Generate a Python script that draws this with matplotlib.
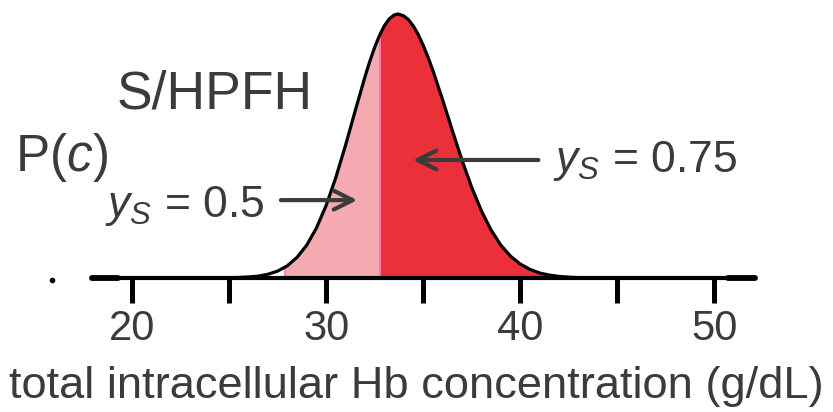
import matplotlib
matplotlib.use("Agg")
import matplotlib.pyplot as plt
import numpy as np

plt.rcParams['font.family'] = ['Liberation Sans', 'DejaVu Sans']
plt.rcParams['mathtext.fontset'] = 'custom'
plt.rcParams['mathtext.rm'] = 'Liberation Sans'
plt.rcParams['mathtext.it'] = 'Liberation Sans:italic'

# curve (relative height, peak = 1)
conc = [22.0, 24.0, 25.0, 25.5, 26.0, 26.5, 27.0, 27.5, 28.0, 28.5, 29.0, 29.5,
        30.0, 30.5, 31.0, 31.5, 32.0, 32.25, 32.5, 32.75, 33.0, 33.25, 33.5, 33.7,
        34.0, 34.25, 34.5, 34.75, 35.0, 35.25, 35.5, 36.0, 36.5, 37.0, 37.5, 38.0,
        38.5, 39.0, 39.5, 40.0, 40.5, 41.0, 41.5, 42.0, 42.5, 43.0, 43.5, 44.0, 46.0]
density = [0.0, 0.0, 0.001, 0.002, 0.004, 0.007, 0.014, 0.026, 0.046, 0.078, 0.124, 0.189,
           0.274, 0.380, 0.502, 0.633, 0.761, 0.820, 0.873, 0.918, 0.955, 0.981, 0.996, 1.0,
           0.993, 0.978, 0.954, 0.922, 0.882, 0.837, 0.787, 0.676, 0.560, 0.447, 0.344, 0.255,
           0.182, 0.125, 0.083, 0.053, 0.033, 0.019, 0.011, 0.006, 0.003, 0.0015, 0.0007,
           0.0003, 0.0]

pink_start = 27.9
split = 32.8
ticks = [20, 25, 30, 35, 40, 45, 50]
tick_labels = ['20', '', '30', '', '40', '', '50']

text_col = '#3b3b3b'
pink = '#f5a9b1'
red = '#ec3039'

conc = np.array(conc)
density = np.array(density)

fig = plt.figure(figsize=(8.33, 4.12), dpi=100)
ax = fig.add_axes([92 / 833, 134 / 412, 663 / 833, 278 / 412])
ax.set_xlim(17.94, 52.1)
ax.set_ylim(0, 1.053)

def segment(lo, hi):
    xs = np.concatenate([[lo], conc[(conc > lo) & (conc < hi)], [hi]])
    return xs, np.interp(xs, conc, density)

xs, ys = segment(pink_start, split)
ax.fill_between(xs, 0, ys, color=pink, lw=0)
xs, ys = segment(split, conc[-1])
ax.fill_between(xs, 0, ys, color=red, lw=0)
for xv in (pink_start, split):
    ax.plot([xv, xv], [0, np.interp(xv, conc, density)], color='#f272b4', lw=1.2)

ax.plot(conc, density, color='black', lw=2.3, solid_capstyle='round',
        solid_joinstyle='round')

# thicker ends of the baseline
ax.plot([17.94, 19.3], [0, 0], color='black', lw=4.2, solid_capstyle='round', clip_on=False)
ax.plot([50.7, 52.1], [0, 0], color='black', lw=4.2, solid_capstyle='round', clip_on=False)
ax.plot([15.9], [-0.008], marker='o', ms=3, color='black', clip_on=False)

for s in ('top', 'right', 'left'):
    ax.spines[s].set_visible(False)
ax.spines['bottom'].set_linewidth(3)
ax.set_yticks([])
ax.set_xticks(ticks)
ax.set_xticklabels(tick_labels)
ax.tick_params(axis='x', direction='out', length=18, width=3.6, pad=4,
               labelsize=30, labelcolor=text_col)
ax.set_xlabel('total intracellular Hb concentration (g/dL)', fontsize=32.6,
              color=text_col, va='center')
ax.xaxis.set_label_coords(0.489, -0.39)

ax.text(13.97, 0.455, 'P($c$)', fontsize=37, color=text_col, va='center', ha='left')
ax.text(19.2, 0.695, 'S/HPFH', fontsize=38.5, color=text_col, va='center', ha='left')
ax.text(18.6, 0.231, '$y_S$ = 0.5', fontsize=32, color=text_col, va='baseline', ha='left')
ax.text(41.7, 0.40, '$y_S$ = 0.75', fontsize=32, color=text_col, va='baseline', ha='left')

arrow = dict(arrowstyle='->', color=text_col, lw=3, mutation_scale=34)
ax.annotate('', xy=(34.33, 0.447), xytext=(41.08, 0.447), arrowprops=arrow)
ax.annotate('', xy=(31.75, 0.295), xytext=(27.53, 0.295), arrowprops=arrow)

fig.savefig('out.png', dpi=100)
